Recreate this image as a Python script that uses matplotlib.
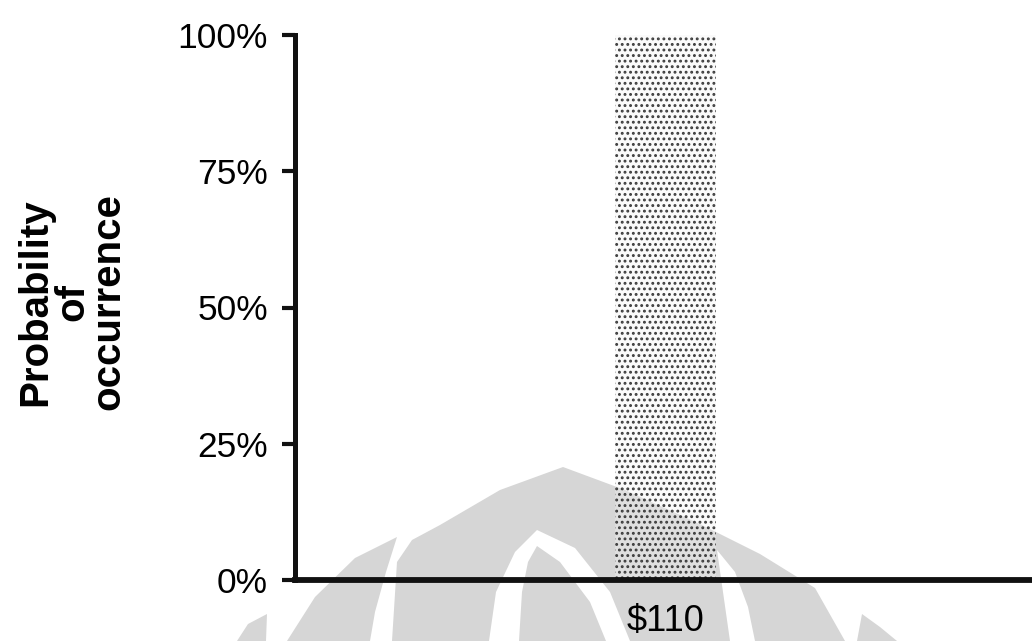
import matplotlib
matplotlib.use("Agg")
from matplotlib import pyplot as plt
from matplotlib.patches import Polygon

plt.rcParams["font.family"] = ["Liberation Sans", "DejaVu Sans"]
plt.rcParams["hatch.linewidth"] = 1.3

# data
categories = ["\\$110"]
probability = [100]
y_ticks = [0, 25, 50, 75, 100]
y_tick_labels = ["0%", "25%", "50%", "75%", "100%"]

W, H = 1032, 641
fig = plt.figure(figsize=(W / 100, H / 100), dpi=100)

# faint watermark behind the chart (pixel coordinates of the page)
bg = fig.add_axes([0, 0, 1, 1], zorder=0)
bg.set_xlim(0, W)
bg.set_ylim(H, 0)
bg.axis("off")
wm = "#d6d6d6"
shapes = [
    (wm, [(392, 641), (397, 562), (412, 540), (440, 525), (500, 490), (563, 467),
          (625, 490), (700, 524), (760, 554), (815, 588), (845, 641)]),
    ("white", [(489, 641), (496, 592), (515, 552), (537, 530), (575, 548),
               (610, 592), (630, 641)]),
    (wm, [(519, 641), (522, 592), (528, 562), (537, 546), (560, 562),
          (590, 602), (606, 641)]),
    ("white", [(730, 641), (723, 592), (717, 550), (735, 572), (748, 607), (755, 641)]),
    (wm, [(287, 641), (315, 597), (355, 558), (397, 537), (386, 572), (375, 612), (370, 641)]),
    (wm, [(237, 641), (248, 624), (267, 614), (266, 641)]),
    (wm, [(857, 641), (862, 614), (880, 627), (897, 641)]),
]
for color, pts in shapes:
    bg.add_patch(Polygon(pts, closed=True, facecolor=color, edgecolor="none"))

# main chart
ax = fig.add_axes([295 / W, 1 - 580 / H, 1 - 295 / W, (580 - 35) / H], zorder=1)
ax.patch.set_alpha(0)

x = list(range(len(categories)))
ax.bar(x, probability, width=0.274, color=(0.95, 0.95, 0.95, 0.35),
       edgecolor="#3c3c3c", linewidth=0, hatch="...", zorder=2)

ax.set_xlim(-1.005, 0.995)
ax.set_ylim(0, 100)
ax.set_xticks(x)
ax.set_xticklabels(categories)
ax.set_yticks(y_ticks)
ax.set_yticklabels(y_tick_labels)

for side in ["top", "right"]:
    ax.spines[side].set_visible(False)
ax.spines["left"].set_linewidth(3.6)
ax.spines["bottom"].set_linewidth(4.2)
ax.spines["left"].set_color("#111111")
ax.spines["bottom"].set_color("#111111")

ax.tick_params(axis="y", length=9.5, width=3, pad=10, labelsize=25.5, color="#111111")
ax.tick_params(axis="x", length=0, pad=17, labelsize=26)

fig.text(72 / W, 1 - 302 / H, "Probability\nof\noccurrence", rotation=90,
         ha="center", va="center", ma="center", fontsize=29, fontweight="bold",
         linespacing=0.95)

fig.savefig("out.png", dpi=100)
